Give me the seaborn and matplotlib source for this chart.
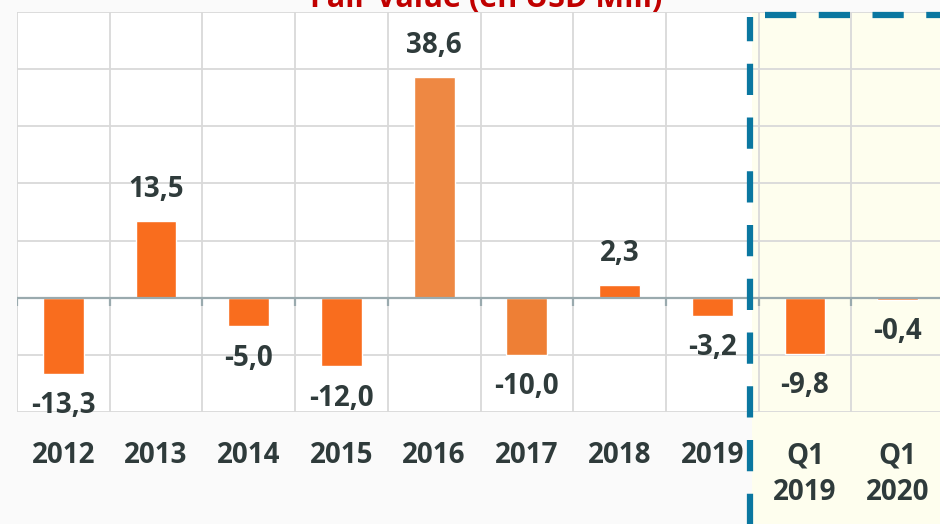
import matplotlib.pyplot as plt
import matplotlib.transforms as mtransforms
from matplotlib.patches import Rectangle
import numpy as np
import seaborn as sns

periods = ['2012', '2013', '2014', '2015', '2016', '2017', '2018', '2019',
           'Q1\n2019', 'Q1\n2020']
fair_value = [-13.3, 13.5, -5.0, -12.0, 38.6, -10.0, 2.3, -3.2, -9.8, -0.4]
bar_colors = ['#F96D1E', '#F96D1E', '#F96D1E', '#F96D1E', '#EE8843',
              '#EE7F35', '#F96D1E', '#F96D1E', '#F96D1E', '#F96D1E']
title = 'Fair Value (en USD Mill)'

sns.set_style('white')
plt.rcParams['font.family'] = ['Open Sans', 'DejaVu Sans']

txt_color = '#2F3B3B'
dash_color = '#0A77A0'

fig = plt.figure(figsize=(9.4, 5.24), dpi=100, facecolor='#FAFAFA')
ax = fig.add_axes([17 / 940, 112 / 524, 927 / 940, 400 / 524])
ax.set_facecolor('white')
ax.set_axisbelow(True)

sns.barplot(x=periods, y=fair_value, hue=periods, palette=bar_colors,
            legend=False, width=0.44, saturation=1, ax=ax, zorder=3)

ax.set_xlim(-0.5, 9.5)
ax.set_ylim(-20, 50)
ax.set_yticks(np.arange(-20, 51, 10))
ax.set_yticklabels([])
ax.tick_params(axis='y', length=0)
ax.set_xticks(np.arange(-0.5, 10, 1), minor=True)
ax.grid(axis='y', color='#D9D9D9', lw=1.3)
ax.grid(axis='x', which='minor', color='#D9D9D9', lw=1.3)
ax.grid(axis='x', which='major', visible=False)
for s in ax.spines.values():
    s.set_visible(False)

ax.tick_params(axis='x', which='both', length=0, pad=21)
for lab in ax.get_xticklabels():
    lab.set_fontsize(20)
    lab.set_fontweight('bold')
    lab.set_color(txt_color)
    lab.set_linespacing(1.35)
    lab.set_va('top')

# zero axis with small ticks
ax.axhline(0, color='#9AAAAE', lw=1.6, zorder=4)
ax.vlines(np.arange(-0.5, 10, 1), -1.4, 0, color='#9AAAAE', lw=1.6, zorder=4)

# value labels
for i, v in enumerate(fair_value):
    off = 22.5 if v >= 0 else -23
    ax.annotate(f'{v:.1f}'.replace('.', ','), (i, v), xytext=(0, off),
                textcoords='offset points', ha='center', va='center',
                fontsize=20, fontweight='bold', color=txt_color, zorder=5)

# highlighted quarterly zone (below the grid)
trans = mtransforms.blended_transform_factory(ax.transData, ax.transAxes)
ax.add_patch(Rectangle((7.43, -0.3), 2.2, 1.3, transform=trans,
                       facecolor='#FEFEEE', edgecolor='none', zorder=0.1,
                       clip_on=False))
ax.plot([7.405, 7.405], [-0.3, 0.988], transform=trans, color=dash_color,
        lw=4.5, dashes=(5, 3.6), clip_on=False, zorder=6)
ax.plot([7.57, 9.6], [0.993, 0.993], transform=trans, color=dash_color,
        lw=4.5, dashes=(5, 3.6), clip_on=False, zorder=6)

fig.text(486 / 940, 1 - 7 / 524, title, ha='center', va='baseline',
         fontsize=22, fontweight='bold', color='#C00000')

fig.savefig('out.png', dpi=100, facecolor=fig.get_facecolor())
